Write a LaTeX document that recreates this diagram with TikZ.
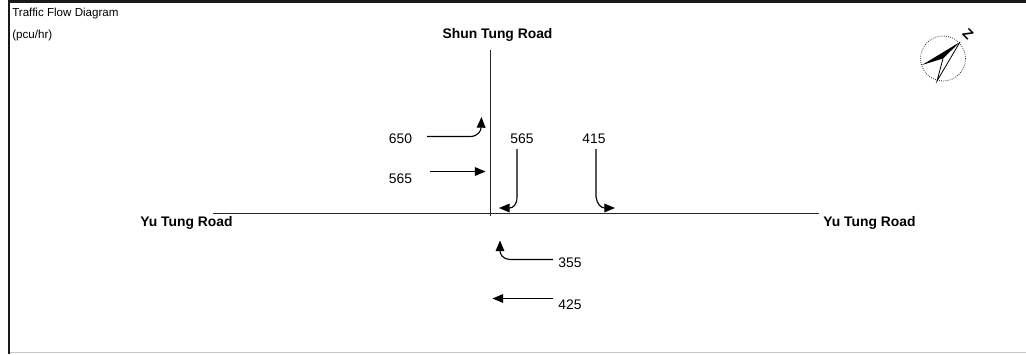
\documentclass[tikz,border=0pt]{standalone}
\usepackage{fontspec}
\setmainfont{Liberation Sans}
\usetikzlibrary{arrows.meta}
\tikzset{
  lab/.style={font=\fontsize{10.4pt}{12pt}\selectfont,inner sep=0pt},
  small/.style={font=\fontsize{8.7pt}{10pt}\selectfont,inner sep=0pt,anchor=west},
  road/.style={font=\bfseries\fontsize{10.4pt}{12pt}\selectfont,inner sep=0pt},
  roadline/.style={line width=0.85pt,black!85},
  flow/.style={line width=0.85pt,-{Triangle[length=8pt,width=6.5pt]}},
  frame/.style={line width=2.2pt,black!90}
}
\begin{document}
\begin{tikzpicture}[x=0.75pt,y=-0.75pt]
\useasboundingbox (0,0) rectangle (1026,354);
\draw[frame] (9,354) -- (9,1.2) -- (1026,1.2);
\draw[line width=0.9pt,black!22] (10,352.5) -- (1026,352.5);
\node[small] (t1) at (12,13) {Traffic Flow Diagram};
\node[small] (t2) at (12,35.5) {(pcu/hr)};
\node[road] (shun) at (497.5,34.5) {Shun Tung Road};
\node[road] (yl) at (186.5,222.5) {Yu Tung Road};
\node[road] (yr) at (869.5,222.5) {Yu Tung Road};
\coordinate (vt) at (490.7,50); \coordinate (vb) at (490.7,216);
\coordinate (hl) at (213,213.7); \coordinate (hr) at (819,213.7);
\draw[roadline] (vt) -- (vb);
\draw[roadline] (hl) -- (hr);
\node[lab] (a650) at (400.5,138.5) {650};
\node[lab] (b565) at (400.5,178.5) {565};
\node[lab] (c565) at (522,138.5) {565};
\node[lab] (d415) at (594,138.5) {415};
\node[lab] (e355) at (570,262.5) {355};
\node[lab] (f425) at (570,304.5) {425};
\draw[flow] (427,136.5) -- (470,136.5) .. controls (478,136.5) and (481,131) .. (481.5,117);
\draw[flow] (430,171.5) -- (485.5,171.5);
\draw[flow] (517,149) -- (517,197) .. controls (517,205) and (513,208) .. (499,208);
\draw[flow] (596,149) -- (596,197) .. controls (597,204) and (601,208) .. (615,208);
\draw[flow] (553,259.5) -- (510,259.5) .. controls (503,259.5) and (500,254) .. (500,240.5);
\draw[flow] (553,298.5) -- (492.5,298.5);
% north arrow
\coordinate (nc) at (943,58.5);
\draw[line width=0.6pt,densely dotted,black!85] (nc) circle (22.5);
\fill[black] (960,42) -- (922,65) -- (943,58.5) -- cycle;
\draw[line width=0.6pt] (960,42) -- (937,81) -- (943,58.5);
\node[font=\bfseries\fontsize{10.5pt}{11pt}\selectfont,inner sep=0pt,rotate=-45] (north) at (968,34.5) {Z};
\end{tikzpicture}
\end{document}
